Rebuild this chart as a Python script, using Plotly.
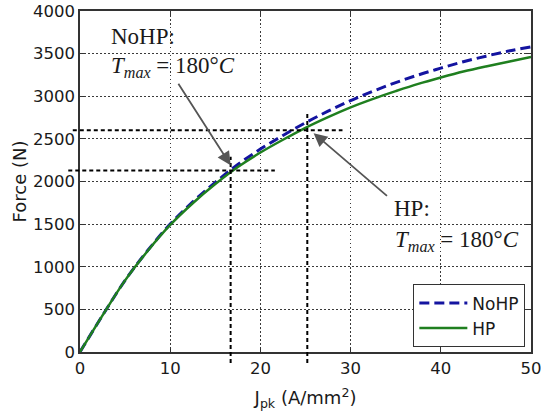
import plotly.graph_objects as go

# Data
j_pk = [0, 2.5, 5, 7.5, 10, 12.5, 15, 17.5, 20, 22.5, 25, 27.5, 30, 32.5, 35, 37.5, 40, 42.5, 45, 47.5, 50]
force_nohp = [0, 430, 840, 1190, 1500, 1760, 1990, 2200, 2380, 2540, 2690, 2825, 2950, 3060, 3160, 3250, 3330, 3405, 3470, 3530, 3580]
force_hp = [0, 430, 840, 1185, 1490, 1745, 1970, 2170, 2340, 2490, 2630, 2755, 2870, 2970, 3060, 3145, 3220, 3290, 3350, 3405, 3460]

# operating points marked by the dashed guide lines
op_nohp = (16.7, 2130)
op_hp = (25.2, 2600)

x_range = [0, 50]
y_range = [0, 4000]


def xfrac(v):
    return (v - x_range[0]) / (x_range[1] - x_range[0])


def yfrac(v):
    return (v - y_range[0]) / (y_range[1] - y_range[0])


fig = go.Figure()
fig.add_trace(go.Scatter(x=j_pk, y=force_nohp, mode="lines", name="NoHP",
                         line=dict(color="#1414a0", width=3, dash="10px,5px", shape="spline")))
fig.add_trace(go.Scatter(x=j_pk, y=force_hp, mode="lines", name="HP",
                         line=dict(color="#1f7f1f", width=2.5, shape="spline")))

dash_line = dict(color="black", width=2, dash="4px,3px")
# horizontal guide lines (slightly past the left axis, as in the reference)
fig.add_shape(type="line", xref="paper", yref="y", x0=xfrac(-1.3), x1=xfrac(21.6),
              y0=op_nohp[1], y1=op_nohp[1], line=dash_line)
fig.add_shape(type="line", xref="paper", yref="y", x0=xfrac(-0.8), x1=xfrac(29.1),
              y0=op_hp[1], y1=op_hp[1], line=dash_line)
# vertical guide lines (slightly below the x axis)
fig.add_shape(type="line", xref="x", yref="paper", x0=op_nohp[0], x1=op_nohp[0],
              y0=yfrac(-130), y1=yfrac(2290), line=dash_line)
fig.add_shape(type="line", xref="x", yref="paper", x0=op_hp[0], x1=op_hp[0],
              y0=yfrac(-130), y1=yfrac(2800), line=dash_line)

serif = "Liberation Serif, Times New Roman, serif"
sans = "DejaVu Sans, sans-serif"
# arrows
fig.add_annotation(x=16.7, y=2190, ax=10.8, ay=3165, xref="x", yref="y", axref="x", ayref="y",
                   showarrow=True, arrowhead=2, arrowsize=1.5, arrowwidth=1.8, arrowcolor="#555555", text="")
fig.add_annotation(x=25.9, y=2567, ax=34.2, ay=1817, xref="x", yref="y", axref="x", ayref="y",
                   showarrow=True, arrowhead=2, arrowsize=1.5, arrowwidth=1.8, arrowcolor="#555555", text="")

# texts
tmax = "<i>T</i><sub><i>max</i></sub> = 180°<i>C</i>"
fig.add_annotation(x=3.2, y=3700, xref="x", yref="y", text="NoHP:", showarrow=False, xanchor="left",
                   font=dict(family=serif, size=23, color="#1a1a1a"))
fig.add_annotation(x=3.2, y=3340, xref="x", yref="y", text=tmax, showarrow=False, xanchor="left",
                   font=dict(family=serif, size=23, color="#1a1a1a"))
fig.add_annotation(x=34.6, y=1680, xref="x", yref="y", text="HP:", showarrow=False, xanchor="left",
                   font=dict(family=serif, size=23, color="#1a1a1a"))
fig.add_annotation(x=34.7, y=1300, xref="x", yref="y", text=tmax, showarrow=False, xanchor="left",
                   font=dict(family=serif, size=23, color="#1a1a1a"))

axis_common = dict(showgrid=True, gridcolor="#3a3a3a", griddash="1.5px,2.5px", gridwidth=1,
                   showline=True, linecolor="#333333", linewidth=1.5, mirror="ticks",
                   ticks="inside", ticklen=5, tickcolor="#333333", zeroline=False,
                   automargin=False, ticklabeloverflow="allow",
                   tickfont=dict(family=sans, size=16.5, color="#1a1a1a"))

fig.update_xaxes(range=x_range, tickvals=[0, 10, 20, 30, 40, 50],
                 title=dict(text="J<sub>pk</sub> (A/mm<sup>2</sup>)",
                            font=dict(family=sans, size=18, color="#1a1a1a")),
                 **axis_common)
fig.update_yaxes(range=y_range, tickvals=[0, 500, 1000, 1500, 2000, 2500, 3000, 3500, 4000],
                 title=dict(text="Force (N)", standoff=2,
                            font=dict(family=sans, size=18, color="#1a1a1a")),
                 **axis_common)

fig.update_layout(width=541, height=416, margin=dict(l=80, r=10, t=11, b=64),
                  paper_bgcolor="white", plot_bgcolor="white", showlegend=True,
                  legend=dict(x=0.987, y=0.014, xanchor="right", yanchor="bottom",
                              bordercolor="#333333", borderwidth=1.2, bgcolor="white",
                              font=dict(family=sans, size=17, color="#1a1a1a"),
                              tracegroupgap=0, itemwidth=48))

fig.write_html("out.html", config={"displayModeBar": False},
               post_script="document.body.style.margin='0';")
